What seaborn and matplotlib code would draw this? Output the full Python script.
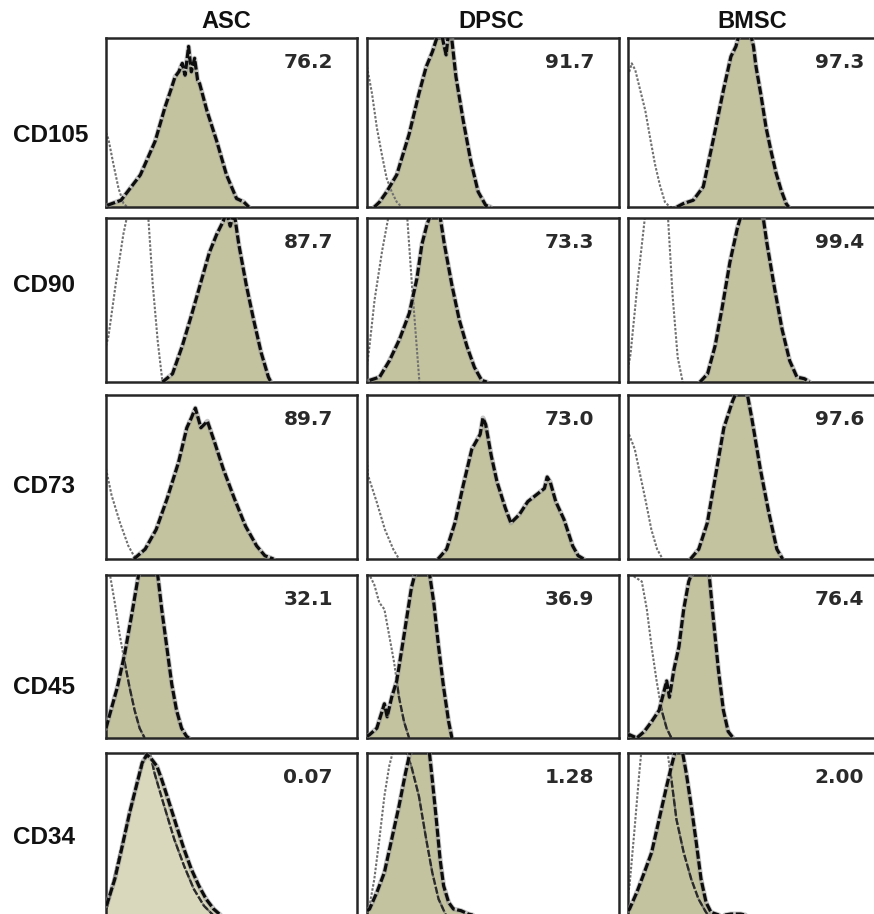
import matplotlib
matplotlib.use("Agg")
import matplotlib.pyplot as plt
import seaborn as sns
import pandas as pd

# ---------------- data (x: 0-100 across panel, y: % of panel height) ----
cell_types = ["ASC", "DPSC", "BMSC"]
markers = ["CD105", "CD90", "CD73", "CD45", "CD34"]
percent_labels = [["76.2", "91.7", "97.3"],
                  ["87.7", "73.3", "99.4"],
                  ["89.7", "73.0", "97.6"],
                  ["32.1", "36.9", "76.4"],
                  ["0.07", "1.28", "2.00"]]

# CD105
asc_cd105_x = [0.5, 6, 13.7, 19.6, 23.5, 26, 27.5, 29, 30.4, 31.5, 32.9, 34, 35.3, 36.5, 37.3, 40.2, 44.1, 48, 52, 54.9, 56.9]
asc_cd105_y = [1, 4, 19, 39, 59, 70, 77, 80, 85, 78, 95, 80, 88, 75, 73, 57, 39, 19, 5, 3, 0]
asc_cd105_ctrl_x = [0, 1, 3, 5, 7, 8.5]
asc_cd105_ctrl_y = [44, 40, 25, 11, 2, 0]
dpsc_cd105_x = [2.9, 5, 7.8, 11.8, 16.7, 20.6, 23.5, 26, 27.5, 29.4, 30.5, 31.4, 32.4, 33.3, 35.3, 38.2, 41.2, 44.1, 47.1, 49]
dpsc_cd105_y = [0, 3, 9, 19, 43, 67, 83, 92, 99, 104, 96, 90, 104, 104, 77, 51, 27, 9, 1, 0]
dpsc_cd105_ctrl_x = [0, 2, 3.9, 5.9, 7.8, 9.8, 11.8, 13.7]
dpsc_cd105_ctrl_y = [83, 67, 47, 31, 17, 9, 3, 0]
bmsc_cd105_x = [19.5, 22, 26, 30, 34, 38, 41, 43, 44.6, 46, 48.6, 50, 51, 53, 55, 57, 59, 61, 63, 64]
bmsc_cd105_y = [0, 2, 4, 12, 40, 69, 89, 95, 104, 104, 104, 95, 83, 66, 47, 33, 20, 10, 2, 0]
bmsc_cd105_ctrl_x = [0.5, 1.5, 2.9, 4.9, 6.9, 8.8, 10.8, 12.7, 14.7, 16.7, 20]
bmsc_cd105_ctrl_y = [80, 85, 81, 69, 57, 41, 25, 13, 3, 0, 0]

# CD90
asc_cd90_x = [22.5, 26.5, 30.4, 34.3, 38.2, 41.2, 44.1, 46.7, 48, 49.5, 51, 52.9, 55.9, 58.8, 61.8, 64.7, 65.7]
asc_cd90_y = [0, 5, 22, 42, 63, 79, 90, 98, 104, 95, 104, 84, 59, 38, 18, 3, 0]
asc_cd90_ctrl_x = [0, 1, 3.9, 6.9, 8.8, 10, 16, 16.7, 18.6, 20.6, 22.5]
asc_cd90_ctrl_y = [22, 28, 60, 90, 104, 115, 115, 104, 60, 25, 0]
dpsc_cd90_x = [1, 5, 8.9, 12.9, 16.8, 19.8, 21.8, 23.8, 25.7, 27, 28.7, 30.7, 33.7, 36.6, 39.6, 42.6, 45.5, 47.5]
dpsc_cd90_y = [1, 3, 13, 26, 42, 63, 84, 96, 104, 104, 104, 84, 59, 38, 22, 9, 1, 0]
dpsc_cd90_ctrl_x = [0, 1, 3, 6, 8.9, 10, 15, 15.8, 17.8, 19.8, 20.8]
dpsc_cd90_ctrl_y = [10, 22, 50, 80, 104, 115, 115, 104, 60, 20, 0]
bmsc_cd90_x = [28.7, 31.7, 34.7, 37.6, 40.6, 43.6, 45.5, 49, 53.5, 55.4, 58.4, 61.4, 64.4, 67.3, 70.3, 72.3]
bmsc_cd90_y = [0, 5, 22, 46, 73, 94, 104, 104, 104, 84, 57, 32, 13, 3, 2, 0]
bmsc_cd90_ctrl_x = [0, 1, 4, 7, 8, 15, 15.8, 17.8, 19.8, 21.8]
bmsc_cd90_ctrl_y = [8, 17, 63, 104, 115, 115, 104, 52, 15, 0]

# CD73
asc_cd73_x = [11.1, 15.6, 20, 24.4, 28.9, 32.2, 34, 35.6, 37.8, 40.4, 43.3, 46.7, 51.1, 55.6, 60, 63.3, 66.7]
asc_cd73_y = [0, 6, 18, 37, 59, 80, 86, 92, 80, 84, 71, 55, 37, 20, 8, 2, 0]
asc_cd73_ctrl_x = [0, 2.2, 5.6, 8.9, 11.1, 12.2]
asc_cd73_ctrl_y = [55, 39, 22, 8, 2, 0]
dpsc_cd73_x = [28.2, 31.6, 34.9, 38.2, 41.6, 44.9, 46, 47.1, 49.3, 51.6, 54.9, 57.1, 60.4, 63.8, 67.1, 70.4, 71.5, 72.7, 74.9, 78.2, 81.6, 83.8, 86]
dpsc_cd73_y = [0, 6, 22, 45, 67, 76, 86, 82, 63, 47, 31, 22, 27, 35, 39, 43, 50, 47, 35, 24, 8, 2, 0]
dpsc_cd73_ctrl_x = [0, 0.4, 3.8, 7.1, 10.4, 12.7]
dpsc_cd73_ctrl_y = [60, 51, 35, 18, 6, 0]
bmsc_cd73_x = [24.9, 28.2, 31.6, 34.9, 38.2, 41.6, 43.8, 45.5, 47.1, 49.3, 52.7, 56, 59.3, 61.6]
bmsc_cd73_y = [0, 6, 22, 51, 80, 96, 104, 104, 104, 86, 55, 29, 6, 0]
bmsc_cd73_ctrl_x = [0.4, 2.7, 4.9, 7.1, 9.3, 11.6, 13.8]
bmsc_cd73_ctrl_y = [76, 67, 51, 35, 18, 6, 0]

# CD45
asc_cd45_x = [0, 1.6, 4.5, 7.5, 10.4, 13.4, 20.3, 22.2, 24.2, 26.2, 28.1, 30.1, 32.1, 33]
asc_cd45_y = [6, 15, 31, 52, 77, 104, 104, 79, 56, 33, 17, 6, 1, 0]
asc_cd45_ctrl_x = [0.5, 1.6, 3.5, 5.5, 7.5, 9.4, 11.4, 13.4, 15.4]
asc_cd45_ctrl_y = [104, 100, 83, 63, 46, 31, 17, 6, 0]
dpsc_cd45_x = [0, 1, 3.9, 5.5, 6.9, 8, 9.8, 11.8, 14.7, 17.6, 19.6, 24.5, 26.5, 28.4, 30.4, 32.4, 33.7]
dpsc_cd45_y = [1, 2, 6, 14, 21, 13, 25, 35, 63, 92, 104, 104, 83, 56, 31, 10, 0]
dpsc_cd45_ctrl_x = [0.5, 1, 2.9, 4.9, 6.9, 8.8, 10.8, 12.7, 14.7, 16.7]
dpsc_cd45_ctrl_y = [104, 100, 94, 83, 79, 63, 46, 25, 10, 0]
bmsc_cd45_x = [0, 0.6, 3.5, 6.5, 9.4, 12.4, 15.4, 16.5, 18.3, 20.3, 22.2, 24.2, 26.2, 32.1, 34, 36, 38, 39.9, 41.9]
bmsc_cd45_y = [1, 2, 0, 4, 10, 17, 35, 25, 42, 56, 79, 96, 104, 104, 73, 42, 17, 4, 0]
bmsc_cd45_ctrl_x = [1, 2.5, 5.5, 7.5, 9.4, 11.4, 13.4, 15.4, 17.3]
bmsc_cd45_ctrl_y = [104, 99, 96, 79, 56, 35, 17, 6, 0]

# CD34
asc_cd34_x = [0, 0.6, 3.5, 6.5, 9.4, 12.4, 14.4, 16.3, 18.3, 20.3, 22.2, 25.2, 28.1, 31.1, 34, 37, 39.9, 42.9, 45.9, 47.8]
asc_cd34_y = [8, 10, 24, 44, 64, 82, 94, 99, 96, 92, 84, 70, 56, 42, 30, 20, 12, 6, 2, 0]
asc_cd34_ctrl_x = [0, 0.6, 5.5, 11.4, 15.4, 17.3, 19.3, 23.2, 27.2, 31.1, 35, 39, 42.9, 44.9]
asc_cd34_ctrl_y = [6, 8, 40, 76, 98, 102, 88, 68, 48, 32, 18, 8, 2, 0]
dpsc_cd34_x = [0, 1, 3.9, 6.9, 9.8, 12.7, 15.3, 17.6, 24.5, 25.9, 27.5, 29, 30.4, 32.4, 34.3, 37.3, 40.2, 43.1, 49, 51]
dpsc_cd34_y = [5, 6, 16, 28, 48, 68, 88, 104, 104, 84, 60, 36, 20, 10, 6, 5, 3, 2, 1, 0]
dpsc_cd34_ctrl_x = [0, 1, 2.9, 4.9, 6.9, 8.8, 10.8, 14.7, 17.6, 20.6, 23.5, 25.9, 28.4, 31.4, 33.3]
dpsc_cd34_ctrl_y = [5, 8, 24, 48, 74, 92, 104, 104, 92, 74, 48, 28, 12, 2, 0]
bmsc_cd34_x = [0, 0.6, 3.5, 6.5, 9.4, 12.4, 15.4, 17.3, 19.3, 21.3, 23.2, 25.2, 27.2, 29.1, 31.1, 33.1, 37, 41, 44.9, 48, 52.8, 56.7]
bmsc_cd34_y = [5, 6, 16, 28, 40, 60, 80, 92, 104, 104, 88, 68, 46, 24, 10, 4, 2, 3, 3, 2, 2, 0]
bmsc_cd34_ctrl_x = [0, 0.6, 2.6, 4.5, 5.5, 15.4, 17.3, 19.3, 22.2, 25.2, 28.1, 31.1, 33.1]
bmsc_cd34_ctrl_y = [15, 20, 54, 88, 104, 104, 84, 60, 40, 24, 12, 4, 0]

sample_x = [[asc_cd105_x, dpsc_cd105_x, bmsc_cd105_x], [asc_cd90_x, dpsc_cd90_x, bmsc_cd90_x],
            [asc_cd73_x, dpsc_cd73_x, bmsc_cd73_x], [asc_cd45_x, dpsc_cd45_x, bmsc_cd45_x],
            [asc_cd34_x, dpsc_cd34_x, bmsc_cd34_x]]
sample_y = [[asc_cd105_y, dpsc_cd105_y, bmsc_cd105_y], [asc_cd90_y, dpsc_cd90_y, bmsc_cd90_y],
            [asc_cd73_y, dpsc_cd73_y, bmsc_cd73_y], [asc_cd45_y, dpsc_cd45_y, bmsc_cd45_y],
            [asc_cd34_y, dpsc_cd34_y, bmsc_cd34_y]]
ctrl_x = [[asc_cd105_ctrl_x, dpsc_cd105_ctrl_x, bmsc_cd105_ctrl_x], [asc_cd90_ctrl_x, dpsc_cd90_ctrl_x, bmsc_cd90_ctrl_x],
          [asc_cd73_ctrl_x, dpsc_cd73_ctrl_x, bmsc_cd73_ctrl_x], [asc_cd45_ctrl_x, dpsc_cd45_ctrl_x, bmsc_cd45_ctrl_x],
          [asc_cd34_ctrl_x, dpsc_cd34_ctrl_x, bmsc_cd34_ctrl_x]]
ctrl_y = [[asc_cd105_ctrl_y, dpsc_cd105_ctrl_y, bmsc_cd105_ctrl_y], [asc_cd90_ctrl_y, dpsc_cd90_ctrl_y, bmsc_cd90_ctrl_y],
          [asc_cd73_ctrl_y, dpsc_cd73_ctrl_y, bmsc_cd73_ctrl_y], [asc_cd45_ctrl_y, dpsc_cd45_ctrl_y, bmsc_cd45_ctrl_y],
          [asc_cd34_ctrl_y, dpsc_cd34_ctrl_y, bmsc_cd34_ctrl_y]]

# ---------------- styling / layout ----------------
sns.set_theme(style="white")
plt.rcParams["font.family"] = ["DejaVu Sans"]

W, H = 874, 914
fig = plt.figure(figsize=(W / 100, H / 100), dpi=100)
fig.patch.set_facecolor("white")

col_px = [(106, 357), (367, 619), (628, 879)]
row_px = [(38, 207), (218, 382), (395, 559), (575, 738), (753, 919)]
text_right_px = [333, 594, 864]
title_cx = [226, 491, 752]
row_label_cy = [136, 286, 487, 687, 838]

FILL = "#c4c3a0"
FILL_LIGHT = "#d9d8bc"

for r, marker in enumerate(markers):
    y0, y1 = row_px[r]
    for c, cell in enumerate(cell_types):
        x0, x1 = col_px[c]
        ax = fig.add_axes([x0 / W, 1 - y1 / H, (x1 - x0) / W, (y1 - y0) / H])
        ax.set_xlim(0, 100)
        ax.set_ylim(0, 100)
        ax.set_xticks([])
        ax.set_yticks([])
        ax.set_facecolor("white")
        for s in ax.spines.values():
            s.set_visible(True)
            s.set_color("#262626")
            s.set_linewidth(1.8)

        sx, sy = sample_x[r][c], sample_y[r][c]
        cx, cy = ctrl_x[r][c], ctrl_y[r][c]
        dark_inside = r >= 3
        fill_col = FILL_LIGHT if (r == 4 and c == 0) else FILL

        poly = ax.fill_between(sx, sy, 0, color=fill_col, lw=0, zorder=1)

        df_c = pd.DataFrame({"x": cx, "y": cy})
        sns.lineplot(data=df_c, x="x", y="y", sort=False, estimator=None, ax=ax,
                     color="#707070", lw=1.5, linestyle=(0, (1.2, 0.8)), zorder=2)
        if dark_inside:
            sns.lineplot(data=df_c, x="x", y="y", sort=False, estimator=None, ax=ax,
                         color="#2a2a2a", lw=1.7, linestyle=(0, (3, 1)), zorder=3)
            ax.lines[-1].set_clip_path(poly.get_paths()[0], ax.transData)

        df_s = pd.DataFrame({"x": sx, "y": sy})
        sns.lineplot(data=df_s, x="x", y="y", sort=False, estimator=None, ax=ax,
                     color="#9a9a9a", lw=3.6, alpha=0.55, zorder=4)
        sns.lineplot(data=df_s, x="x", y="y", sort=False, estimator=None, ax=ax,
                     color="#0d0d0d", lw=2.3, linestyle=(0, (2.6, 0.8)), zorder=5)
        ax.set_xlabel("")
        ax.set_ylabel("")

        ax.text((text_right_px[c] - x0) / (x1 - x0), 1 - 30 / (y1 - y0), percent_labels[r][c],
                transform=ax.transAxes, ha="right", va="baseline",
                fontsize=14.5, fontweight="bold", color="#2a2a2a",
                family=["DejaVu Sans"], zorder=6)

for c, cell in enumerate(cell_types):
    fig.text(title_cx[c] / W, 1 - 22 / H, cell, ha="center", va="center",
             fontsize=17, fontweight="bold", color="#111111", family=["Liberation Sans", "DejaVu Sans"])

for r, marker in enumerate(markers):
    fig.text(13 / W, 1 - row_label_cy[r] / H, marker, ha="left", va="center",
             fontsize=17.5, fontweight="bold", color="#111111", family=["Liberation Sans", "DejaVu Sans"])

fig.savefig("out.png", dpi=100, facecolor="white")
